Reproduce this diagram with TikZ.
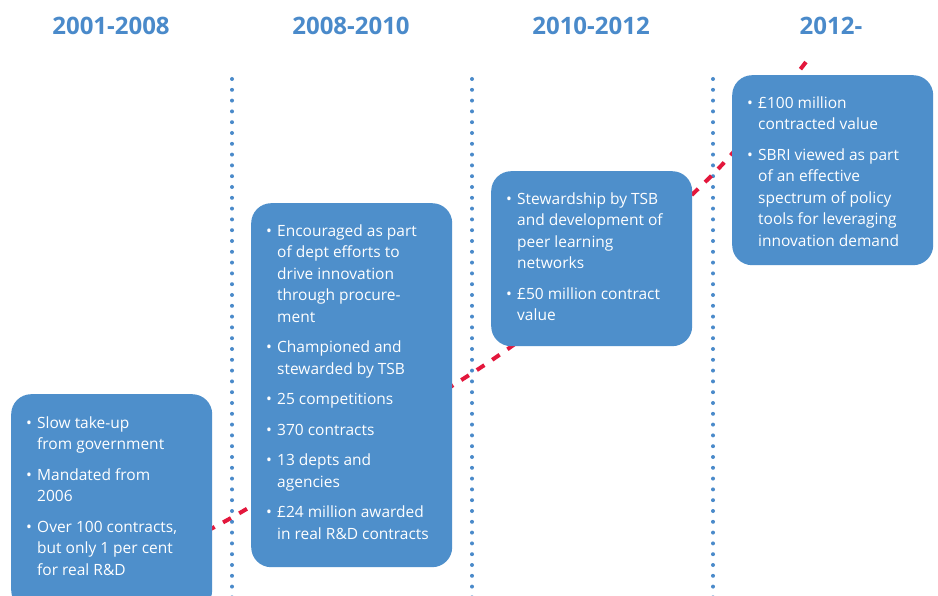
\documentclass[tikz,border=0pt]{standalone}
\usepackage{fontspec}
\setmainfont{Open Sans}
\usetikzlibrary{calc}
\definecolor{boxblue}{HTML}{4E8FCB}
\definecolor{headblue}{HTML}{4A8ACA}
\definecolor{dotblue}{HTML}{4A8ACA}
\definecolor{redline}{HTML}{E3173C}
\newcommand\bul{\makebox[11pt][l]{\textbullet}}
\tikzset{
  box/.style={fill=boxblue, draw=none, rounded corners=20pt, anchor=north west, inner sep=0pt, minimum width=201pt},
  txt/.style={anchor=north west, inner sep=0pt, text=white, font=\fontsize{15.5}{21.5}\selectfont},
  head/.style={anchor=base, inner sep=0pt, text=headblue, font=\fontsize{24}{28}\selectfont\bfseries},
  dotline/.style={draw=dotblue, line width=4pt, line cap=round, dash pattern=on 0pt off 10.8pt},
  redcurve/.style={draw=redline, line width=4pt, dash pattern=on 9pt off 9.5pt}
}
\begin{document}
\begin{tikzpicture}[x=1pt,y=-1pt]
\useasboundingbox (0,0) rectangle (938,596);
\clip (0,0) rectangle (938,596);
\fill[white] (0,0) rectangle (938,596);
% headings
\node[head] (h1) at (111,35) {2001-2008};
\node[head] (h2) at (351,35) {2008-2010};
\node[head] (h3) at (591,35) {2010-2012};
\node[head] (h4) at (831,35) {2012-};
% dotted separators
\foreach \x/\n in {232/1,472/2,713/3}{
  \coordinate (d\n a) at (\x,79);
  \coordinate (d\n b) at (\x,600);
  \draw[dotline] (d\n a) -- (d\n b);
}
% red dashed curve
\coordinate (r0) at (190,539);
\coordinate (r1) at (250,507);
\coordinate (r2) at (480,368);
\coordinate (r3) at (600,276);
\coordinate (r4) at (719,168);
\coordinate (r5) at (809,58);
\draw[redcurve] plot[smooth, tension=0.55] coordinates {(r0) (r1) (r2) (r3) (r4) (r5)};
% boxes
\node[box, minimum height=216pt] (b1) at (11,394) {};
\node[box, minimum height=364pt] (b2) at (251,203) {};
\node[box, minimum height=175pt] (b3) at (491,171) {};
\node[box, minimum height=190pt] (b4) at (732,75) {};
% texts
\node[txt] (t1) at ($(b1.north west)+(15,19)$) {\begin{tabular}{@{}l@{}l@{}}
\bul & Slow take-up\\
 & from government\\[9pt]
\bul & Mandated from\\
 & 2006\\[9pt]
\bul & Over 100 contracts,\\
 & but only 1 per cent\\
 & for real R\&D
\end{tabular}};
\node[txt] (t2) at ($(b2.north west)+(15,18)$) {\begin{tabular}{@{}l@{}l@{}}
\bul & Encouraged as part\\
 & of dept efforts to\\
 & drive innovation\\
 & through procure-\\
 & ment\\[9pt]
\bul & Championed and\\
 & stewarded by TSB\\[9pt]
\bul & 25 competitions\\[9pt]
\bul & 370 contracts\\[9pt]
\bul & 13 depts and\\
 & agencies\\[9pt]
\bul & £24 million awarded\\
 & in real R\&D contracts
\end{tabular}};
\node[txt] (t3) at ($(b3.north west)+(15,18)$) {\begin{tabular}{@{}l@{}l@{}}
\bul & Stewardship by TSB\\
 & and development of\\
 & peer learning\\
 & networks\\[9pt]
\bul & £50 million contract\\
 & value
\end{tabular}};
\node[txt] (t4) at ($(b4.north west)+(15,18)$) {\begin{tabular}{@{}l@{}l@{}}
\bul & £100 million\\
 & contracted value\\[9pt]
\bul & SBRI viewed as part\\
 & of an effective\\
 & spectrum of policy\\
 & tools for leveraging\\
 & innovation demand
\end{tabular}};
\end{tikzpicture}
\end{document}
